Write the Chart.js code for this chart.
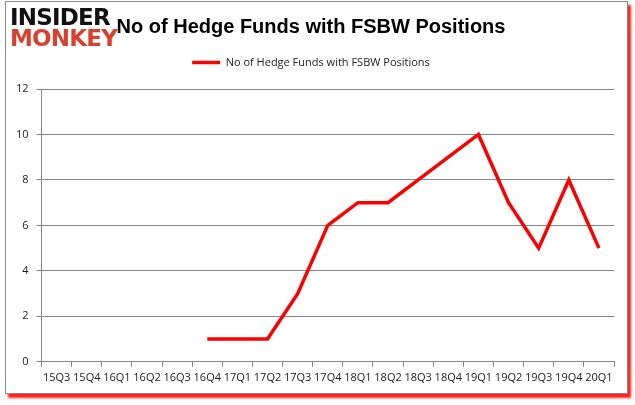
<!DOCTYPE html>
<html>
<head>
<meta charset="utf-8">
<script src="https://cdn.jsdelivr.net/npm/chart.js@4"></script>
<style>
  html, body { margin: 0; padding: 0; background: #fff; }
  #wrap { position: relative; width: 635px; height: 405px; overflow: hidden; }
  #frame {
    position: absolute; left: 5px; top: 1px; width: 621px; height: 391px;
    border: 1px solid #8a8a8a; box-shadow: 3px 4px 2px #ff2020; background: #fff;
  }
  #logo { position: absolute; left: 10px; top: 7px; font-family: "DejaVu Sans"; font-weight: bold; line-height: 21px; font-size: 23px; letter-spacing: -0.8px; }
  #logo .a { color: #111; }
  #logo .b { color: #d9402e; }
  canvas { position: absolute; left: 0; top: 0; }
</style>
</head>
<body>
<div id="wrap">
  <div id="frame"></div>
  <canvas id="chart" width="635" height="405"></canvas>
  <div id="logo"><div class="a">INSIDER</div><div class="b">MONKEY</div></div>
</div>
<script>
const quarters = ["15Q3", "15Q4", "16Q1", "16Q2", "16Q3", "16Q4", "17Q1", "17Q2", "17Q3", "17Q4",
  "18Q1", "18Q2", "18Q3", "18Q4", "19Q1", "19Q2", "19Q3", "19Q4", "20Q1"];
const fundCounts = [null, null, null, null, null, 1, 1, 1, 3, 6, 7, 7, 8, 9, 10, 7, 5, 8, 5];
const yTicks = [0, 2, 4, 6, 8, 10, 12];

const chartCanvas = document.getElementById("chart");

// extra room under the legend
const legendGap = {
  id: "legendGap",
  beforeInit(chart) {
    const fit = chart.legend.fit;
    chart.legend.fit = function () {
      fit.bind(chart.legend)();
      this.height += 11;
    };
  },
};

new Chart(chartCanvas, {
  type: "line",
  data: {
    labels: quarters,
    datasets: [
      {
        label: "No of Hedge Funds with FSBW Positions",
        data: fundCounts,
        borderColor: "#ff0000",
        backgroundColor: "#ff0000",
        borderWidth: 3.5,
        pointRadius: 0,
        tension: 0,
        fill: false,
      },
    ],
  },
  options: {
    responsive: false,
    animation: false,
    layout: { padding: { left: 8, right: 21, top: 4, bottom: 17 } },
    scales: {
      x: {
        offset: true,
        grid: { drawOnChartArea: false, drawTicks: true, tickLength: 5, color: "#868686", offset: true },
        border: { color: "#868686", width: 1 },
        ticks: { font: { family: "Open Sans", size: 11 }, color: "#222", maxRotation: 0, minRotation: 0, autoSkip: false, padding: 4 },
      },
      y: {
        min: yTicks[0],
        max: yTicks[yTicks.length - 1],
        afterBuildTicks: (axis) => { axis.ticks = yTicks.map((v) => ({ value: v })); },
        grid: { color: "#868686", tickLength: 5 },
        border: { color: "#868686", width: 1 },
        ticks: { font: { family: "Open Sans", size: 11 }, color: "#222", padding: 8 },
      },
    },
    plugins: {
      title: {
        display: true,
        text: "No of Hedge Funds with FSBW Positions",
        font: { family: "Liberation Sans", size: 20, weight: "bold" },
        color: "#000",
        padding: { top: 11, bottom: 4 },
      },
      legend: {
        display: true,
        labels: {
          usePointStyle: true,
          pointStyle: "line",
          pointStyleWidth: 28,
          boxHeight: 4,
          font: { family: "Open Sans", size: 11 },
          color: "#222",
          padding: 14,
        },
      },
      tooltip: { enabled: false },
    },
  },
  plugins: [legendGap],
});
</script>
</body>
</html>
